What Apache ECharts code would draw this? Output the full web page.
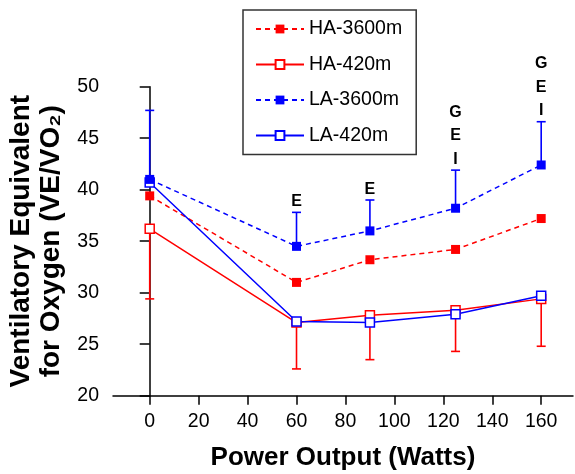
<!DOCTYPE html>
<html>
<head>
<meta charset="utf-8">
<script src="https://cdn.jsdelivr.net/npm/echarts@6/dist/echarts.min.js"></script>
<style>
html, body { margin: 0; padding: 0; background: #fff; }
#chart { width: 575px; height: 474px; }
</style>
</head>
<body>
<div id="chart"></div>
<script>
// ---- data ----
const xValues = [0, 60, 90, 125, 160];
const ha3600 = [39.4, 31.0, 33.2, 34.2, 37.2];
const ha420 = [36.2, 27.1, 27.8, 28.3, 29.4];
const la3600 = [41.0, 34.5, 36.0, 38.2, 42.4];
const la420 = [40.7, 27.2, 27.1, 27.9, 29.7];
const ha420Lower = [29.4, 22.6, 23.5, 24.3, 24.8];
const la3600Upper = [47.7, 37.8, 39.0, 41.9, 46.6];
const annotX = [60, 90, 125, 160];
const annotText = ['E', 'E', 'G\nE\nI', 'G\nE\nI'];
const xTickValues = [0, 20, 40, 60, 80, 100, 120, 140, 160];

const RED = '#ff0000';
const BLUE = '#0000ff';
const FONT = '"Liberation Sans", Arial, Helvetica, sans-serif';

const pairs = (ys) => xValues.map((x, i) => [x, ys[i]]);

function errRender(color) {
  return function (params, api) {
    const x = api.value(0);
    const p0 = api.coord([x, api.value(1)]);
    const p1 = api.coord([x, api.value(2)]);
    const st = { stroke: color, lineWidth: 1.6 };
    return {
      type: 'group',
      children: [
        { type: 'line', shape: { x1: p0[0], y1: p0[1], x2: p1[0], y2: p1[1] }, style: st },
        { type: 'line', shape: { x1: p1[0] - 4.5, y1: p1[1], x2: p1[0] + 4.5, y2: p1[1] }, style: st }
      ]
    };
  };
}

const chart = echarts.init(document.getElementById('chart'));
const option = {
  animation: false,
  backgroundColor: '#fff',
  textStyle: { fontFamily: FONT },
  grid: { left: 113, right: 2, top: 86.7, bottom: 78.3, containLabel: false, outerBoundsMode: 'none' },
  legend: {
    orient: 'vertical',
    left: 243,
    top: 10,
    padding: [9, 14, 9, 12],
    borderColor: '#333',
    borderWidth: 1.5,
    itemWidth: 48,
    itemHeight: 11,
    itemGap: 15.5,
    textStyle: { fontFamily: FONT, fontSize: 19.5, color: '#000', lineHeight: 20 },
    data: ['HA-3600m', 'HA-420m', 'LA-3600m', 'LA-420m']
  },
  xAxis: {
    type: 'value',
    min: -15,
    max: 173,
    name: 'Power Output (Watts)',
    nameLocation: 'middle',
    nameGap: 49,
    nameTextStyle: { fontFamily: FONT, fontSize: 26, fontWeight: 'bold', color: '#000' },
    axisLine: { show: true, lineStyle: { color: '#000', width: 1.5 } },
    axisTick: { show: true, length: 9, customValues: xTickValues, lineStyle: { color: '#000', width: 1.5 } },
    axisLabel: { customValues: xTickValues, margin: 16, fontSize: 19.5, color: '#000', fontFamily: FONT },
    splitLine: { show: false }
  },
  yAxis: {
    type: 'value',
    min: 20,
    max: 50,
    interval: 5,
    name: 'Ventilatory Equivalent\nfor Oxygen (VE/VO\u2082)',
    nameLocation: 'middle',
    nameGap: 38,
    nameRotate: 90,
    nameTextStyle: { fontFamily: FONT, fontSize: 28, fontWeight: 'bold', color: '#000', lineHeight: 30 },
    axisLine: { show: true, lineStyle: { color: '#000', width: 1.5 } },
    axisTick: { show: true, length: 10, lineStyle: { color: '#000', width: 1.5 } },
    axisLabel: { margin: 14, fontSize: 19.5, color: '#000', fontFamily: FONT },
    splitLine: { show: false }
  },
  series: [
    {
      type: 'custom', name: 'errHA420', z: 1, silent: true,
      renderItem: errRender(RED),
      data: xValues.map((x, i) => [x, ha420[i], ha420Lower[i]])
    },
    {
      type: 'custom', name: 'errLA3600', z: 1, silent: true,
      renderItem: errRender(BLUE),
      data: xValues.map((x, i) => [x, la3600[i], la3600Upper[i]])
    },
    {
      name: 'HA-3600m', type: 'line', z: 3,
      data: pairs(ha3600),
      symbol: 'rect', symbolSize: 9,
      itemStyle: { color: RED },
      lineStyle: { color: RED, width: 1.5, type: [5, 4] }
    },
    {
      name: 'HA-420m', type: 'line', z: 3,
      data: pairs(ha420),
      symbol: 'rect', symbolSize: 9,
      itemStyle: { color: '#fff', borderColor: RED, borderWidth: 1.5 },
      lineStyle: { color: RED, width: 1.5 }
    },
    {
      name: 'LA-420m', type: 'line', z: 3,
      data: pairs(la420),
      symbol: 'rect', symbolSize: 9,
      itemStyle: { color: '#fff', borderColor: BLUE, borderWidth: 1.5 },
      lineStyle: { color: BLUE, width: 1.5 }
    },
    {
      name: 'LA-3600m', type: 'line', z: 4,
      data: pairs(la3600),
      symbol: 'rect', symbolSize: 9,
      itemStyle: { color: BLUE },
      lineStyle: { color: BLUE, width: 1.5, type: [5, 4] }
    },
    {
      type: 'custom', name: 'annot', z: 5, silent: true,
      renderItem: function (params, api) {
        const p = api.coord([api.value(0), api.value(1)]);
        return {
          type: 'text',
          x: p[0],
          y: p[1] + 1,
          style: {
            text: annotText[params.dataIndex],
            textAlign: 'center',
            textVerticalAlign: 'bottom',
            fontFamily: FONT,
            fontSize: 16,
            fontWeight: 'bold',
            lineHeight: 23.5,
            fill: '#000'
          }
        };
      },
      data: annotX.map((x) => [x, la3600Upper[xValues.indexOf(x)]])
    }
  ]
};
chart.setOption(option);
</script>
</body>
</html>
